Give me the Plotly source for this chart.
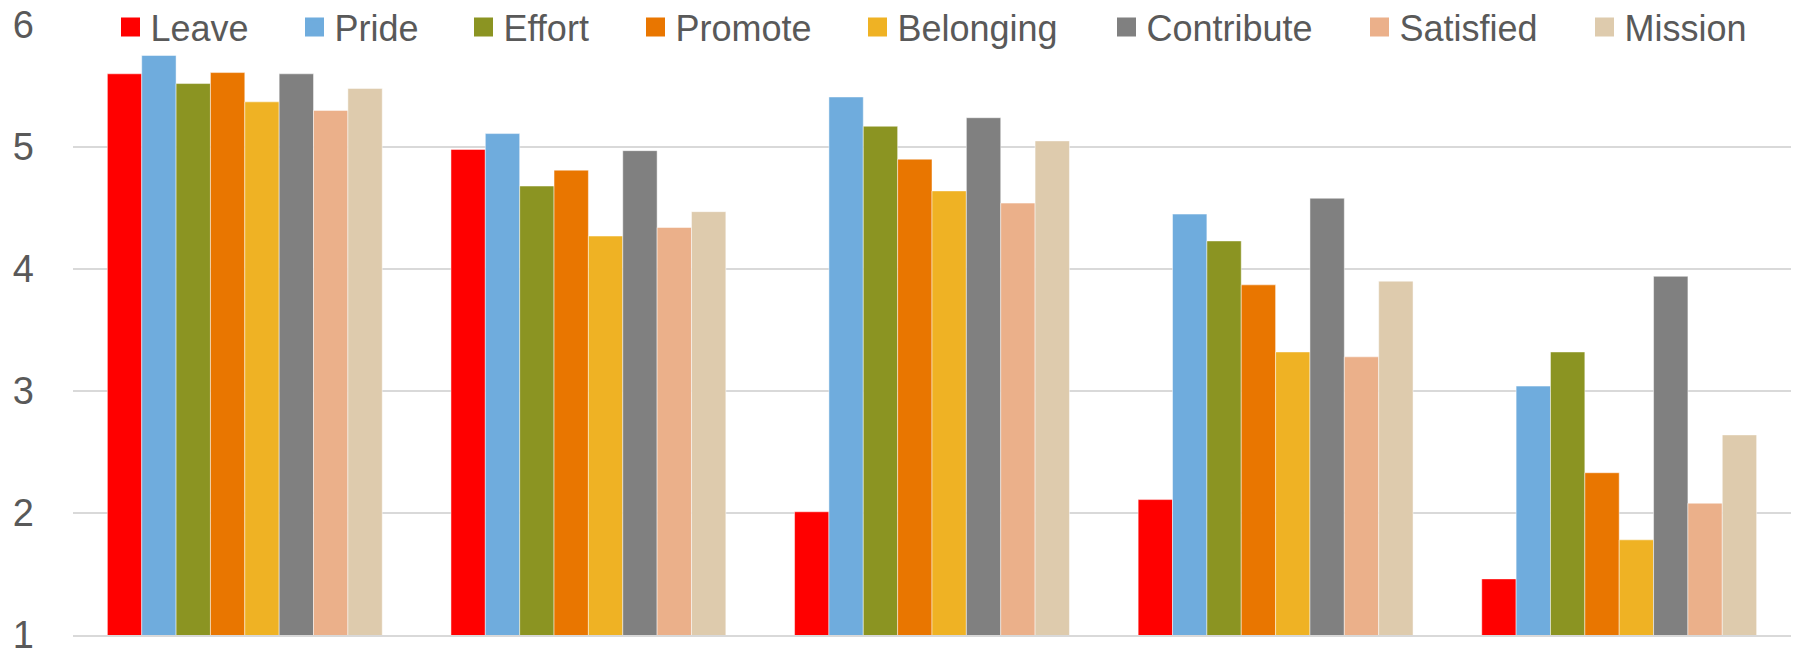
import plotly.graph_objects as go

categories = ["Group 1", "Group 2", "Group 3", "Group 4", "Group 5"]
series_names = ["Leave", "Pride", "Effort", "Promote", "Belonging", "Contribute", "Satisfied", "Mission"]

leave = [5.60, 4.98, 2.01, 2.11, 1.46]
pride = [5.75, 5.11, 5.41, 4.45, 3.04]
effort = [5.52, 4.68, 5.17, 4.23, 3.32]
promote = [5.61, 4.81, 4.90, 3.87, 2.33]
belonging = [5.37, 4.27, 4.64, 3.32, 1.78]
contribute = [5.60, 4.97, 5.24, 4.58, 3.94]
satisfied = [5.30, 4.34, 4.54, 3.28, 2.08]
mission = [5.48, 4.47, 5.05, 3.90, 2.64]

series_values = [leave, pride, effort, promote, belonging, contribute, satisfied, mission]
colors = ["#FF0000", "#6FACDD", "#8B9422", "#E97600", "#EFB224", "#808080", "#EBB08A", "#DECBAD"]

y_ticks = [1, 2, 3, 4, 5, 6]

# legend square left edges (px) in the reference
legend_sq = [121, 305, 474, 646, 868, 1117, 1370, 1595]

W, H = 1797, 650
L, R, T, B = 73, 6, 25, 15
pw = W - L - R
ph = H - T - B

FONT = "Liberation Sans, Arial, sans-serif"

fig = go.Figure()
layout_legends = {}
for i, (name, vals, col) in enumerate(zip(series_names, series_values, colors)):
    fig.add_trace(go.Bar(
        x=categories, y=vals, name=name, showlegend=False,
        marker=dict(color=col, line=dict(color="rgba(255,255,255,0.6)", width=0.8)),
    ))

for i, (name, col) in enumerate(zip(series_names, colors)):
    lname = "legend" if i == 0 else f"legend{i+1}"
    # legend-only entry with a larger square swatch
    fig.add_trace(go.Scatter(
        x=[None], y=[None], name=name, mode="markers", legend=lname,
        marker=dict(symbol="square", size=16, color=col, line=dict(color=col, width=3)),
        hoverinfo="skip",
    ))
    lx = (legend_sq[i] - 10.5 - L) / pw
    ly = (H - B - 27) / ph
    layout_legends[lname] = dict(
        x=lx, y=ly, xanchor="left", yanchor="middle",
        orientation="h", bgcolor="rgba(0,0,0,0)", borderwidth=0,
        itemsizing="trace",
        font=dict(family=FONT, size=36, color="#595959"),
    )

fig.update_layout(
    width=W, height=H,
    margin=dict(l=L, r=R, t=T, b=B, autoexpand=False),
    paper_bgcolor="white", plot_bgcolor="white",
    barmode="group", bargap=0.2, bargroupgap=0,
    showlegend=True,
    **layout_legends,
)
fig.update_xaxes(
    showticklabels=False, showgrid=False, ticks="",
    showline=True, linecolor="#d9d9d9", linewidth=2,
)
fig.update_yaxes(
    range=[1, 6], tickvals=y_ticks, ticktext=[str(v) for v in y_ticks],
    showgrid=True, gridcolor="#d9d9d9", gridwidth=1.5,
    zeroline=False, ticks="", ticklabelstandoff=38,
    ticklabeloverflow="allow",
    tickfont=dict(family=FONT, size=38, color="#595959"),
)
# hide the top gridline (value 6) as in the reference
fig.add_shape(type="line", xref="paper", yref="y", x0=0, x1=1, y0=6, y1=6,
              line=dict(color="white", width=3), layer="below")

fig.write_html("out.html")
